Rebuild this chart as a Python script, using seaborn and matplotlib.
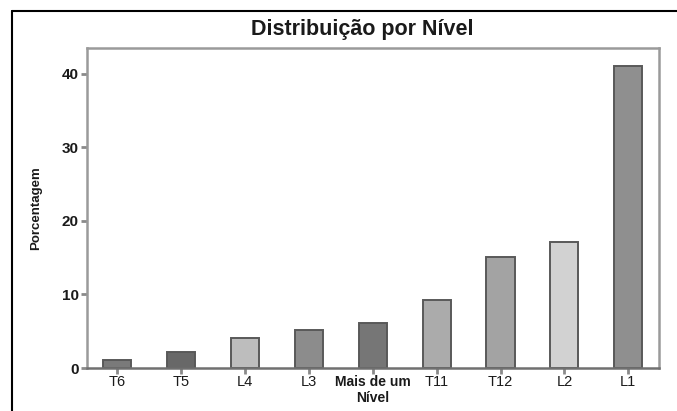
import matplotlib
matplotlib.use("Agg")
import matplotlib.pyplot as plt
import seaborn as sns
import pandas as pd
from matplotlib.lines import Line2D

categories = ["T6", "T5", "L4", "L3", "Mais de um\nNível", "T11", "T12", "L2", "L1"]
values = [1.1, 2.2, 4.1, 5.1, 6.1, 9.2, 15.1, 17.1, 41.1]
colors = ["#7a7a7a", "#686868", "#bdbdbd", "#8c8c8c", "#767676", "#ababab", "#a3a3a3", "#d2d2d2", "#8f8f8f"]
yticks = [0, 10, 20, 30, 40]

sns.set_theme(style="white", rc={"xtick.bottom": True, "ytick.left": True,
                                 "text.color": "#1a1a1a", "axes.labelcolor": "#1a1a1a"})
plt.rcParams['font.family'] = ['Liberation Sans', 'DejaVu Sans']

df = pd.DataFrame({"cat": categories, "val": values})

fig = plt.figure(figsize=(6.77, 4.11), dpi=100)
ax = fig.add_axes([87/677, 1 - 368/411, (659-87)/677, (368-48)/411])

sns.barplot(data=df, x="cat", y="val", hue="cat", palette=colors, legend=False,
            width=0.44, edgecolor="#595959", linewidth=1.4, ax=ax)

ax.set_ylim(0, 43.5)
ax.set_xlim(-0.47, 8.48)
ax.set_yticks(yticks)
ax.set_yticklabels([str(t) for t in yticks], fontweight="bold", fontsize=11)
ax.set_xlabel("")
ax.set_ylabel("Porcentagem", fontweight="bold", fontsize=9.5, labelpad=14)
for lbl in ax.get_xticklabels():
    lbl.set_fontsize(10.5)
    if "Mais" in lbl.get_text():
        lbl.set_fontweight("bold")
        lbl.set_fontsize(10)
ax.tick_params(axis="both", length=4, width=2, pad=2, direction="out",
               color="#8a8a8a", labelcolor="#1a1a1a")
ax.tick_params(axis="x", pad=1)
for s in ax.spines.values():
    s.set_color("#9a9a9a")
    s.set_linewidth(1.8)
ax.spines["bottom"].set_color("#707070")

fig.text(362/677, 1 - 30/411, "Distribuição por Nível", ha="center", va="center",
         fontsize=15.5, fontweight="bold")

# outer frame lines
fig.add_artist(Line2D([12/677, 12/677], [0, 1 - 11/411], transform=fig.transFigure, color="black", lw=1.5))
fig.add_artist(Line2D([12/677, 1], [1 - 11/411, 1 - 11/411], transform=fig.transFigure, color="black", lw=1.5))

fig.savefig("out.png", dpi=100)
